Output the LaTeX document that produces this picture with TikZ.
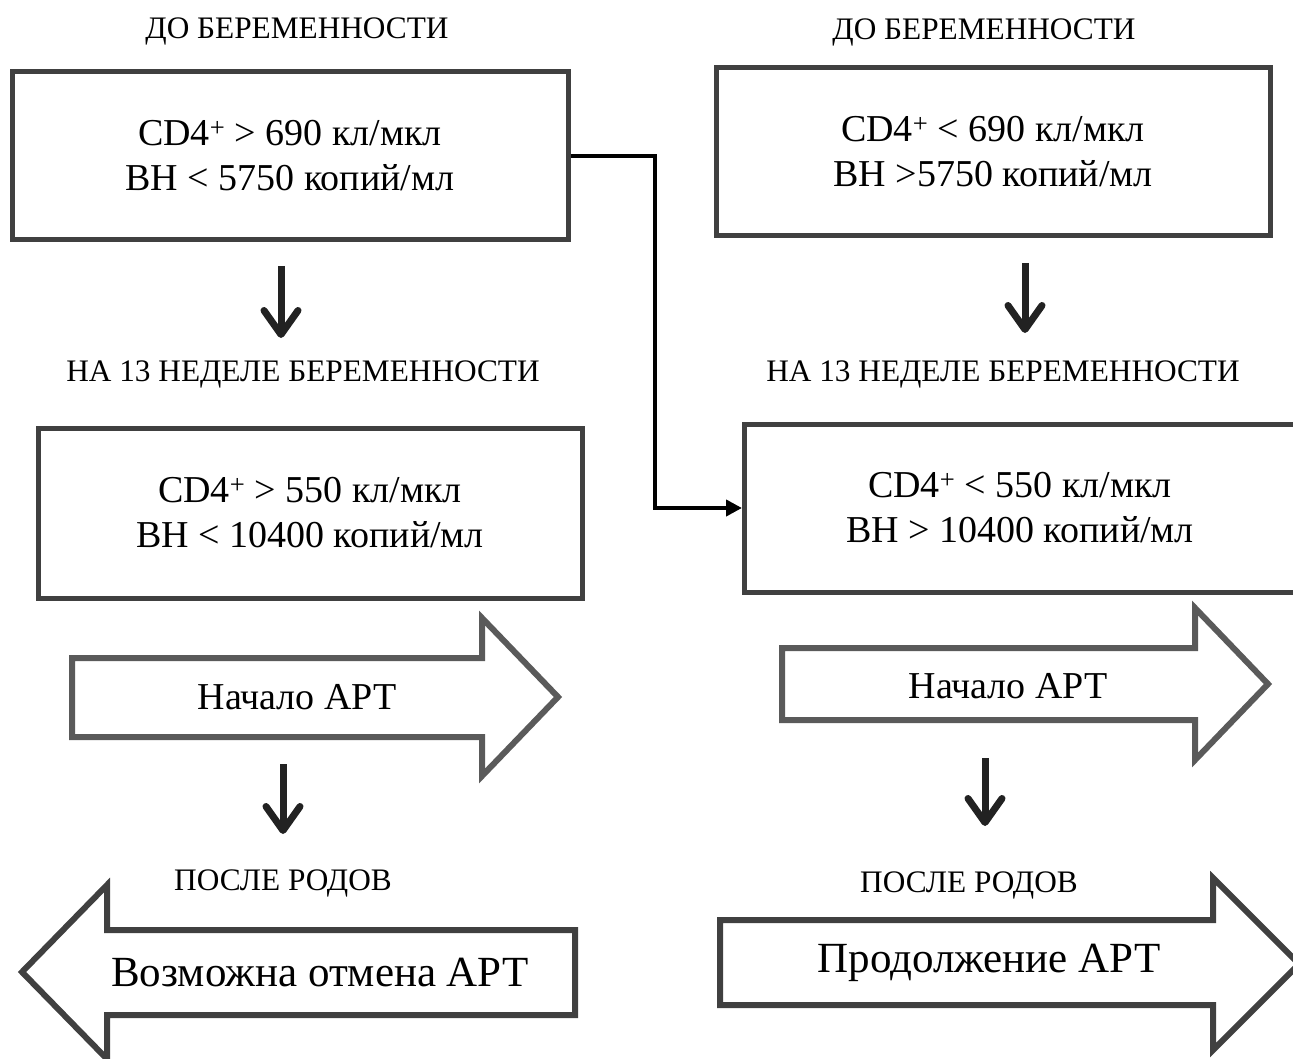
\documentclass[tikz,border=0pt]{standalone}
\usepackage{fontspec}
\setmainfont{Liberation Serif}
\usetikzlibrary{arrows.meta}
\definecolor{boxgray}{HTML}{404040}
\definecolor{arrowgray}{HTML}{5A5A5A}
\definecolor{downgray}{HTML}{222222}
\begin{document}
\begin{tikzpicture}[x=1pt,y=-1pt]
  \tikzstyle{frame}=[draw=boxgray,line width=5pt,minimum height=168pt,align=center,inner sep=0pt,font=\fontsize{38}{45}\selectfont]
  \tikzstyle{heading}=[inner sep=0pt,font=\fontsize{31.3}{36}\selectfont]
  \tikzstyle{big}=[draw=arrowgray,line width=6pt,fill=white,line join=miter]
  \tikzstyle{bigtext}=[inner sep=0pt,font=\fontsize{38}{44}\selectfont]
  \tikzstyle{down}=[draw=downgray,line width=7pt,-{Straight Barb[length=24pt,width=34pt,round]}]
  \tikzstyle{line}=[draw,line width=4pt,-{Triangle[length=16pt,width=16pt]}]
  \useasboundingbox (0,0) rectangle (1293,1059);
  \clip (0,0) rectangle (1293,1059);
  % before pregnancy
  \node[heading] (beforeL) at (297,31) {ДО БЕРЕМЕННОСТИ};
  \node[heading] (beforeR) at (984,32) {ДО БЕРЕМЕННОСТИ};
  \node[frame,minimum width=556pt] (box1) at (290,156)
    {CD4\textsuperscript{+} > 690 кл/мкл\\ВН < 5750 копий/мл};
  \node[frame,minimum width=554pt] (box2) at (993,152)
    {CD4\textsuperscript{+} < 690 кл/мкл\\ВН >5750 копий/мл};
  \coordinate (d1a) at (281,266);
  \coordinate (d1b) at (281,338);
  \coordinate (d2a) at (1025,263);
  \coordinate (d2b) at (1025,333);
  \draw[down] (d1a) -- (d1b);
  \draw[down] (d2a) -- (d2b);
  % week 13
  \node[heading] (week13L) at (303,374) {НА 13 НЕДЕЛЕ БЕРЕМЕННОСТИ};
  \node[heading] (week13R) at (1003,374) {НА 13 НЕДЕЛЕ БЕРЕМЕННОСТИ};
  \node[frame,minimum width=544pt,minimum height=170pt] (box3) at (310,513)
    {CD4\textsuperscript{+} > 550 кл/мкл\\ВН < 10400 копий/мл};
  \node[frame,minimum width=551pt] (box4) at (1020,508)
    {CD4\textsuperscript{+} < 550 кл/мкл\\ВН > 10400 копий/мл};
  \coordinate (bend) at (655,156);
  \draw[line] (box1.east) -- (bend) |- (box4.west);
  % start of ART
  \draw[big] (72,658) -- (482,658) -- (482,618) -- (558,697) -- (482,776) -- (482,737) -- (72,737) -- cycle;
  \draw[big] (782,648) -- (1195,648) -- (1195,608) -- (1268,684) -- (1195,760) -- (1195,720) -- (782,720) -- cycle;
  \node[bigtext] (startL) at (297,697) {Начало АРТ};
  \node[bigtext] (startR) at (1008,686) {Начало АРТ};
  \coordinate (d3a) at (283,764);
  \coordinate (d3b) at (283,834);
  \coordinate (d4a) at (985,758);
  \coordinate (d4b) at (985,826);
  \draw[down] (d3a) -- (d3b);
  \draw[down] (d4a) -- (d4b);
  % after delivery
  \node[heading] (afterL) at (283,883) {ПОСЛЕ РОДОВ};
  \node[heading] (afterR) at (969,885) {ПОСЛЕ РОДОВ};
  \draw[big,draw=boxgray] (575,930) -- (107,930) -- (107,885) -- (22,972) -- (107,1059) -- (107,1015) -- (575,1015) -- cycle;
  \draw[big,draw=boxgray] (720,920) -- (1213,920) -- (1213,878) -- (1299,964) -- (1213,1050) -- (1213,1005) -- (720,1005) -- cycle;
  \node[bigtext,font=\fontsize{43}{50}\selectfont] (stopL) at (320,973) {Возможна отмена АРТ};
  \node[bigtext,font=\fontsize{43}{50}\selectfont] (contR) at (989,963) {Продолжение АРТ};
\end{tikzpicture}
\end{document}
